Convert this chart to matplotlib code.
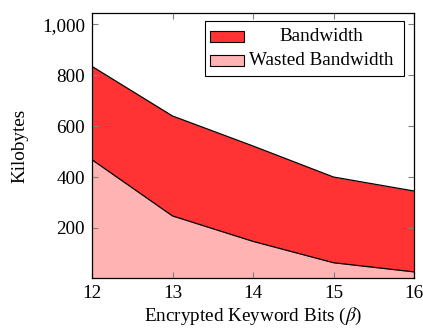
import matplotlib
matplotlib.use("Agg")
import matplotlib.pyplot as plt
from matplotlib.patches import Rectangle
from matplotlib.ticker import FuncFormatter

plt.rcParams['font.family'] = ['Liberation Serif', 'DejaVu Serif']
plt.rcParams['mathtext.fontset'] = 'stix'

bits = [12, 13, 14, 15, 16]
bandwidth = [835, 640, 522, 400, 345]
wasted = [468, 247, 147, 63, 27]
yticks = [200, 400, 600, 800, 1000]
series_names = ['Bandwidth', 'Wasted Bandwidth']
series_colors = ['#ff3333', '#ffb3b3']

FS = 13.8

fig = plt.figure(figsize=(4.23, 3.28), dpi=100)
ax = fig.add_axes([92/423, 1-278/328, (414-92)/423, (278-13)/328])

ax.fill_between(bits, 0, bandwidth, color=series_colors[0], linewidth=0)
ax.plot(bits, bandwidth, color='black', linewidth=0.9)
ax.fill_between(bits, 0, wasted, color=series_colors[1], linewidth=0)
ax.plot(bits, wasted, color='black', linewidth=0.9)

ax.set_xlim(12, 16)
ax.set_ylim(3, 1045)
ax.set_xticks(bits)
ax.set_yticks(yticks)
ax.yaxis.set_major_formatter(FuncFormatter(lambda v, p: f"{int(v):,}"))
ax.tick_params(direction='in', top=True, right=True, length=4.5, width=0.8,
               color='#808080', labelsize=FS, pad=5)
for s in ax.spines.values():
    s.set_linewidth(0.9)

ax.set_xlabel(r'Encrypted Keyword Bits ($\beta$)', fontsize=FS, labelpad=3)
ax.set_ylabel('Kilobytes', fontsize=FS, labelpad=10)

# legend drawn manually (pgfplots style: centered text)
T = ax.transAxes
ax.add_patch(Rectangle((0.351, 0.762), 0.969-0.351, 0.970-0.762, transform=T,
                       facecolor='white', edgecolor='black', linewidth=0.8,
                       zorder=5, clip_on=False))
rows = [(0.891, 0.932), (0.800, 0.842)]
for (yb, yt), name, col in zip(rows, series_names, series_colors):
    ax.add_patch(Rectangle((0.366, yb), 0.472-0.366, yt-yb, transform=T,
                           facecolor=col, edgecolor='black', linewidth=0.8,
                           zorder=6, clip_on=False))
    ax.text(0.711, (yb+yt)/2, name, transform=T, ha='center', va='center',
            fontsize=FS, zorder=7)

fig.savefig('out.png', dpi=100)
